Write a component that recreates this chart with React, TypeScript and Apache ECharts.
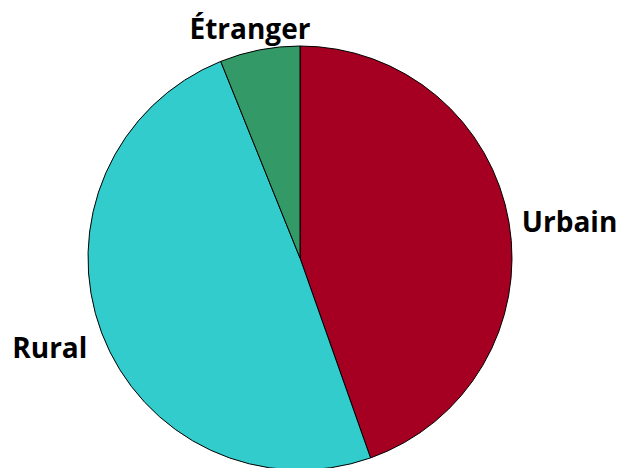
import React, { useEffect, useRef } from "react";
import * as echarts from "echarts";

const categories = ["Urbain", "Rural", "Étranger"];
const values = [44.6, 49.3, 6.1];
const colors = ["#A50021", "#33CCCC", "#339966"];
// per-slice label line offsets (label placement only)
const lineLengths = [8, 41, 22];
const lineLengths2 = [0, -29, -60];

export default function App() {
  const ref = useRef<HTMLDivElement>(null);
  useEffect(() => {
    if (!ref.current) return;
    const chart = echarts.init(ref.current, undefined, { renderer: "svg" });
    chart.setOption({
      animation: false,
      backgroundColor: "#ffffff",
      series: [
        {
          type: "pie",
          center: [300, 258],
          radius: 212,
          startAngle: 90,
          clockwise: true,
          avoidLabelOverlap: false,
          data: categories.map((name, i) => ({
            name,
            value: values[i],
            itemStyle: { color: colors[i] },
            labelLine: { show: false, length: lineLengths[i], length2: lineLengths2[i] },
          })),
          itemStyle: { borderColor: "#000000", borderWidth: 1 },
          label: {
            show: true,
            position: "outside",
            formatter: "{b}",
            color: "#000000",
            fontFamily: "Open Sans",
            fontWeight: "bold",
            fontSize: 28,
          },
          labelLine: { show: false },
          emphasis: { disabled: true },
        },
      ],
    });
    return () => chart.dispose();
  }, []);
  return (
    <div
      ref={ref}
      style={{ position: "absolute", left: 0, top: 0, width: 618, height: 468 }}
    />
  );
}
